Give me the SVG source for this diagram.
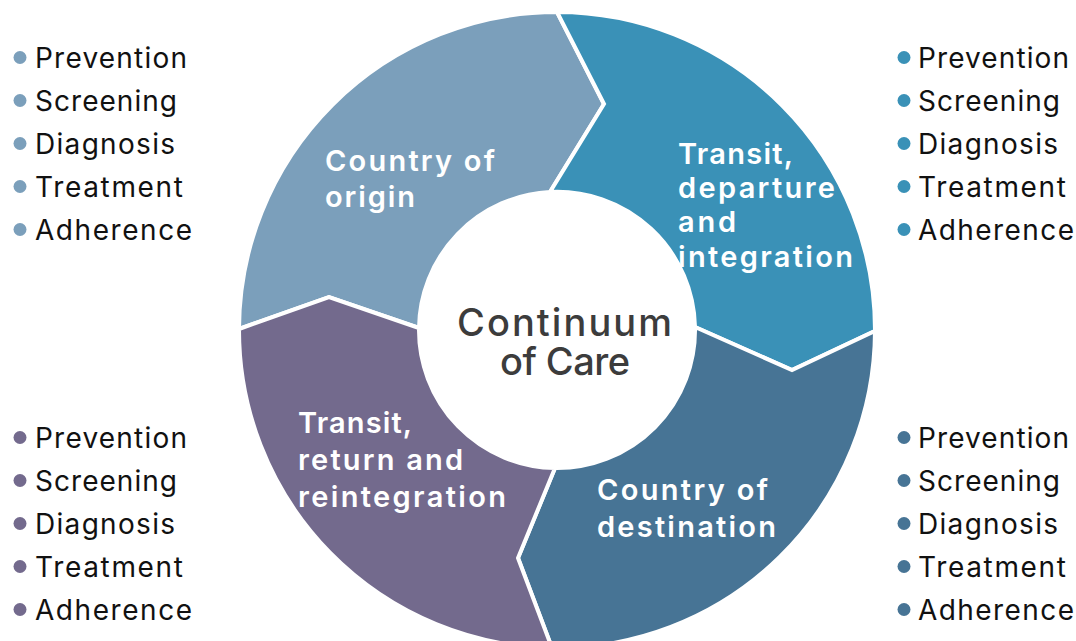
<svg xmlns="http://www.w3.org/2000/svg" width="1076" height="641" viewBox="0 0 1076 641">
<style>
.seg{stroke:#ffffff;stroke-width:4;stroke-linejoin:miter}
.c1{fill:#7B9FBB}.c2{fill:#3A91B7}.c3{fill:#477495}.c4{fill:#736A8D}
.lbl{font-family:Inter,"Liberation Sans",sans-serif;font-size:29px;font-weight:600;fill:#ffffff}
.ctr{font-family:Inter,"Liberation Sans",sans-serif;font-size:38px;font-weight:500;fill:#3c3c3c;text-anchor:middle}
.li{font-family:Inter,"Liberation Sans",sans-serif;font-size:28px;font-weight:400;fill:#111111}
</style>
<rect width="1076" height="641" fill="#ffffff"/>
<g id="origin">
<path class="seg c1" d="M 239 329 A 318 318 0 0 1 557 12 L 604 104 L 550 192 A 138 138 0 0 0 419 328 L 329 297 Z"/>
<text class="lbl" x="325" y="171" textLength="170" lengthAdjust="spacing">Country of</text>
<text class="lbl" x="325" y="207" textLength="90" lengthAdjust="spacing">origin</text>
</g>
<g id="transit-departure">
<path class="seg c2" d="M 557 12 A 318 318 0 0 1 875 331 L 792 370 L 695 327 A 138 138 0 0 0 550 192 L 604 104 Z"/>
<text class="lbl" x="678" y="164" textLength="115" lengthAdjust="spacing">Transit,</text>
<text class="lbl" x="678" y="198" textLength="157" lengthAdjust="spacing">departure</text>
<text class="lbl" x="678" y="232" textLength="58" lengthAdjust="spacing">and</text>
<text class="lbl" x="678" y="267" textLength="175" lengthAdjust="spacing">integration</text>
</g>
<g id="destination">
<path class="seg c3" d="M 875 331 A 318 318 0 0 1 552 648 L 518 558 L 555 468 A 138 138 0 0 0 695 327 L 792 370 Z"/>
<text class="lbl" x="597" y="500" textLength="171" lengthAdjust="spacing">Country of</text>
<text class="lbl" x="597" y="537" textLength="179" lengthAdjust="spacing">destination</text>
</g>
<g id="transit-return">
<path class="seg c4" d="M 552 648 A 318 318 0 0 1 239 329 L 329 297 L 419 328 A 138 138 0 0 0 555 468 L 518 558 Z"/>
<text class="lbl" x="298" y="433" textLength="114" lengthAdjust="spacing">Transit,</text>
<text class="lbl" x="298" y="470" textLength="165" lengthAdjust="spacing">return and</text>
<text class="lbl" x="298" y="507" textLength="208" lengthAdjust="spacing">reintegration</text>
</g>
<g id="center">
<text class="ctr" x="564.5" y="336" textLength="215" lengthAdjust="spacing">Continuum</text>
<text class="ctr" x="565" y="375" textLength="130" lengthAdjust="spacing">of Care</text>
</g>
<g id="list-origin">
<circle class="c1" cx="20" cy="57.5" r="6.5"/><text class="li" x="35" y="68" textLength="152" lengthAdjust="spacing">Prevention</text>
<circle class="c1" cx="20" cy="100.5" r="6.5"/><text class="li" x="35" y="111" textLength="142" lengthAdjust="spacing">Screening</text>
<circle class="c1" cx="20" cy="143.5" r="6.5"/><text class="li" x="35" y="154" textLength="140" lengthAdjust="spacing">Diagnosis</text>
<circle class="c1" cx="20" cy="186.5" r="6.5"/><text class="li" x="35" y="197" textLength="148" lengthAdjust="spacing">Treatment</text>
<circle class="c1" cx="20" cy="229.5" r="6.5"/><text class="li" x="35" y="240" textLength="157" lengthAdjust="spacing">Adherence</text>
</g>
<g id="list-transit-departure">
<circle class="c2" cx="904" cy="57.5" r="6.5"/><text class="li" x="918" y="68" textLength="151" lengthAdjust="spacing">Prevention</text>
<circle class="c2" cx="904" cy="100.5" r="6.5"/><text class="li" x="918" y="111" textLength="142" lengthAdjust="spacing">Screening</text>
<circle class="c2" cx="904" cy="143.5" r="6.5"/><text class="li" x="918" y="154" textLength="140" lengthAdjust="spacing">Diagnosis</text>
<circle class="c2" cx="904" cy="186.5" r="6.5"/><text class="li" x="918" y="197" textLength="148" lengthAdjust="spacing">Treatment</text>
<circle class="c2" cx="904" cy="229.5" r="6.5"/><text class="li" x="918" y="240" textLength="156" lengthAdjust="spacing">Adherence</text>
</g>
<g id="list-transit-return">
<circle class="c4" cx="20" cy="437.5" r="6.5"/><text class="li" x="35" y="448" textLength="152" lengthAdjust="spacing">Prevention</text>
<circle class="c4" cx="20" cy="480.5" r="6.5"/><text class="li" x="35" y="491" textLength="142" lengthAdjust="spacing">Screening</text>
<circle class="c4" cx="20" cy="523.5" r="6.5"/><text class="li" x="35" y="534" textLength="140" lengthAdjust="spacing">Diagnosis</text>
<circle class="c4" cx="20" cy="566.5" r="6.5"/><text class="li" x="35" y="577" textLength="148" lengthAdjust="spacing">Treatment</text>
<circle class="c4" cx="20" cy="609.5" r="6.5"/><text class="li" x="35" y="620" textLength="157" lengthAdjust="spacing">Adherence</text>
</g>
<g id="list-destination">
<circle class="c3" cx="904" cy="437.5" r="6.5"/><text class="li" x="918" y="448" textLength="151" lengthAdjust="spacing">Prevention</text>
<circle class="c3" cx="904" cy="480.5" r="6.5"/><text class="li" x="918" y="491" textLength="142" lengthAdjust="spacing">Screening</text>
<circle class="c3" cx="904" cy="523.5" r="6.5"/><text class="li" x="918" y="534" textLength="140" lengthAdjust="spacing">Diagnosis</text>
<circle class="c3" cx="904" cy="566.5" r="6.5"/><text class="li" x="918" y="577" textLength="148" lengthAdjust="spacing">Treatment</text>
<circle class="c3" cx="904" cy="609.5" r="6.5"/><text class="li" x="918" y="620" textLength="156" lengthAdjust="spacing">Adherence</text>
</g>
</svg>
